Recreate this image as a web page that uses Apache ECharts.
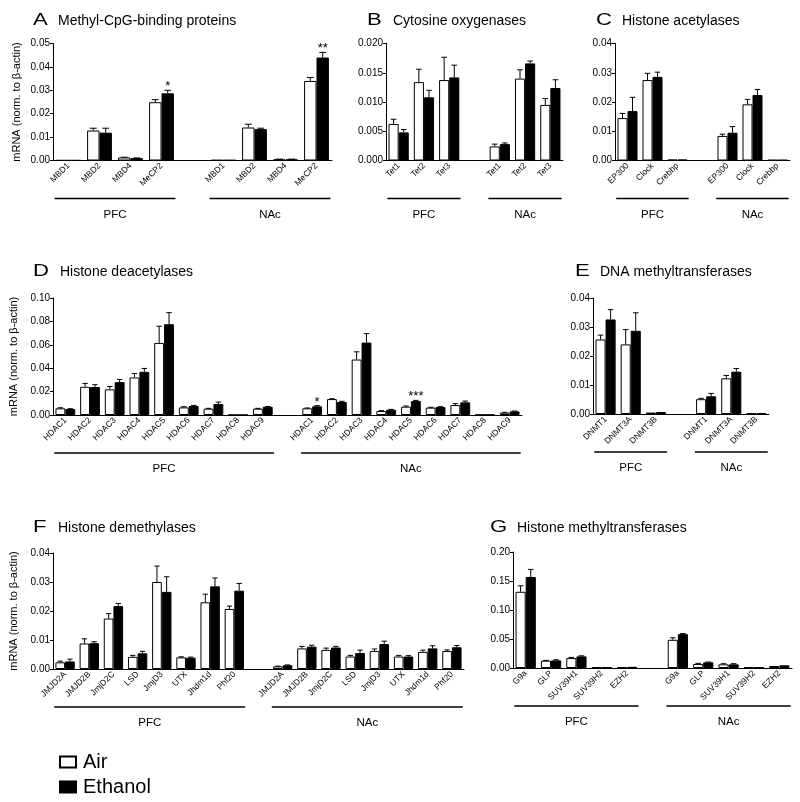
<!DOCTYPE html>
<html><head><meta charset="utf-8">
<script src="https://cdn.jsdelivr.net/npm/echarts@6/dist/echarts.min.js"></script>
<style>html,body{margin:0;padding:0;background:#fff}#c{width:800px;height:802px}</style>
</head><body><div id="c"></div>
<script>
// ---------- DATA ----------
// A: Methyl-CpG-binding proteins
const A_genes = ['MBD1','MBD2','MBD4','MeCP2'];
const A_pfcAir = [0.0001, 0.0128, 0.0013, 0.0249];
const A_pfcAirErr = [0, 0.0010, 0.0001, 0.0011];
const A_pfcEth = [0.0001, 0.0119, 0.0010, 0.0287];
const A_pfcEthErr = [0, 0.0019, 0.0001, 0.0013];
const A_nacAir = [0.0002, 0.0141, 0.0005, 0.0340];
const A_nacAirErr = [0, 0.0014, 0.0001, 0.0015];
const A_nacEth = [0.0002, 0.0134, 0.0005, 0.0440];
const A_nacEthErr = [0, 0.0004, 0.0001, 0.0022];
const A_pfcEthSig = ['', '', '', '*'];
const A_nacEthSig = ['', '', '', '**'];

// B: Cytosine oxygenases
const B_genes = ['Tet1','Tet2','Tet3'];
const B_pfcAir = [0.00625, 0.0134, 0.01375];
const B_pfcAirErr = [0.0008, 0.0022, 0.0039];
const B_pfcEth = [0.0048, 0.0108, 0.0142];
const B_pfcEthErr = [0.0005, 0.0012, 0.0021];
const B_nacAir = [0.0024, 0.0140, 0.0095];
const B_nacAirErr = [0.0004, 0.0015, 0.0011];
const B_nacEth = [0.0028, 0.0166, 0.0124];
const B_nacEthErr = [0.0002, 0.0004, 0.0014];

// C: Histone acetylases
const C_genes = ['EP300','Clock','Crebbp'];
const C_pfcAir = [0.0145, 0.0275, 0.0003];
const C_pfcAirErr = [0.0016, 0.0023, 0];
const C_pfcEth = [0.0169, 0.0286, 0.0003];
const C_pfcEthErr = [0.0047, 0.0016, 0];
const C_nacAir = [0.0084, 0.0192, 0.0002];
const C_nacAirErr = [0.0006, 0.0017, 0];
const C_nacEth = [0.0095, 0.0224, 0.0002];
const C_nacEthErr = [0.0021, 0.0019, 0];

// D: Histone deacetylases
const D_genes = ['HDAC1','HDAC2','HDAC3','HDAC4','HDAC5','HDAC6','HDAC7','HDAC8','HDAC9'];
const D_pfcAir = [0.0057, 0.0241, 0.0219, 0.0321, 0.0616, 0.0065, 0.0054, 0.0001, 0.0054];
const D_pfcAirErr = [0.0005, 0.0029, 0.0025, 0.0034, 0.0143, 0.0006, 0.0003, 0, 0.0003];
const D_pfcEth = [0.0051, 0.0239, 0.0281, 0.0369, 0.0776, 0.0077, 0.0094, 0.0001, 0.0070];
const D_pfcEthErr = [0.0003, 0.0020, 0.0023, 0.0029, 0.0099, 0.0005, 0.0016, 0, 0.0003];
const D_nacAir = [0.0057, 0.0136, 0.0474, 0.0034, 0.0071, 0.0063, 0.0085, 0.0002, 0.0020];
const D_nacAirErr = [0.0003, 0.0003, 0.0066, 0.0003, 0.0006, 0.0003, 0.0012, 0, 0.0003];
const D_nacEth = [0.0074, 0.0111, 0.0619, 0.0045, 0.0119, 0.0068, 0.0108, 0.0002, 0.0031];
const D_nacEthErr = [0.0006, 0.0006, 0.0077, 0.0003, 0.0006, 0.0003, 0.0011, 0, 0.0003];
const D_nacEthSig = ['*', '', '', '', '***', '', '', '', ''];

// E: DNA methyltransferases
const E_genes = ['DNMT1','DNMT3A','DNMT3B'];
const E_pfcAir = [0.0257, 0.0240, 0.0005];
const E_pfcAirErr = [0.0015, 0.0051, 0];
const E_pfcEth = [0.0326, 0.0287, 0.0007];
const E_pfcEthErr = [0.0034, 0.0062, 0];
const E_nacAir = [0.0051, 0.0123, 0.0002];
const E_nacAirErr = [0.0003, 0.0010, 0];
const E_nacEth = [0.0061, 0.0146, 0.0003];
const E_nacEthErr = [0.0010, 0.0011, 0];

// F: Histone demethylases
const F_genes = ['JMJD2A','JMJD2B','JmjD2C','LSD','JmjD3','UTX','Jhdm1d','Phf20'];
const F_pfcAir = [0.0023, 0.0088, 0.0174, 0.0042, 0.0300, 0.0040, 0.0230, 0.0207];
const F_pfcAirErr = [0.0004, 0.0016, 0.0017, 0.0005, 0.0055, 0.0002, 0.0028, 0.0010];
const F_pfcEth = [0.0026, 0.0089, 0.0217, 0.0054, 0.0266, 0.0039, 0.0285, 0.0270];
const F_pfcEthErr = [0.0008, 0.0005, 0.0009, 0.0007, 0.0052, 0.0002, 0.0029, 0.0025];
const F_nacAir = [0.0009, 0.0071, 0.0066, 0.0043, 0.0062, 0.0043, 0.0059, 0.0062];
const F_nacAirErr = [0.0001, 0.0007, 0.0006, 0.0004, 0.0007, 0.0004, 0.0006, 0.0004];
const F_nacEth = [0.0013, 0.0077, 0.0074, 0.0055, 0.0086, 0.0043, 0.0071, 0.0075];
const F_nacEthErr = [0.0001, 0.0005, 0.0004, 0.0010, 0.0010, 0.0003, 0.0009, 0.0006];

// G: Histone methyltransferases
const G_genes = ['G9a','GLP','SUV39H1','SUV39H2','EZH2'];
const G_pfcAir = [0.1314, 0.0126, 0.0171, 0.0010, 0.0015];
const G_pfcAirErr = [0.0103, 0.0006, 0.0012, 0, 0];
const G_pfcEth = [0.1570, 0.0131, 0.0200, 0.0010, 0.0020];
const G_pfcEthErr = [0.0130, 0.0011, 0.0010, 0, 0];
const G_nacAir = [0.0486, 0.0069, 0.0063, 0.0010, 0.0034];
const G_nacAirErr = [0.0034, 0.0011, 0.0011, 0, 0];
const G_nacEth = [0.0583, 0.0097, 0.0063, 0.0010, 0.0046];
const G_nacEthErr = [0.0011, 0.0006, 0.0011, 0, 0];

const regions = ['PFC', 'NAc'];
const yTitle = 'mRNA (norm. to \u03B2-actin)';

// ---------- PANELS ----------
const none = g => g.map(() => '');
const panels = [
  {id:'A', title:'Methyl-CpG-binding proteins', genes:A_genes,
   pa:A_pfcAir, pae:A_pfcAirErr, pe:A_pfcEth, pee:A_pfcEthErr, na:A_nacAir, nae:A_nacAirErr, ne:A_nacEth, nee:A_nacEthErr,
   ps:A_pfcEthSig, ns:A_nacEthSig, max:0.05, interval:0.01, dec:2, yname:true,
   grid:{left:53, top:43.5, width:279, height:117}, tl:[33,22], tt:58},
  {id:'B', title:'Cytosine oxygenases', genes:B_genes,
   pa:B_pfcAir, pae:B_pfcAirErr, pe:B_pfcEth, pee:B_pfcEthErr, na:B_nacAir, nae:B_nacAirErr, ne:B_nacEth, nee:B_nacEthErr,
   ps:none(B_genes), ns:none(B_genes), max:0.02, interval:0.005, dec:3, yname:false,
   grid:{left:386, top:43.5, width:177, height:117}, tl:[367,22], tt:393},
  {id:'C', title:'Histone acetylases', genes:C_genes,
   pa:C_pfcAir, pae:C_pfcAirErr, pe:C_pfcEth, pee:C_pfcEthErr, na:C_nacAir, nae:C_nacAirErr, ne:C_nacEth, nee:C_nacEthErr,
   ps:none(C_genes), ns:none(C_genes), max:0.04, interval:0.01, dec:2, yname:false,
   grid:{left:615, top:43.5, width:175, height:117}, tl:[596,22], tt:622},
  {id:'D', title:'Histone deacetylases', genes:D_genes,
   pa:D_pfcAir, pae:D_pfcAirErr, pe:D_pfcEth, pee:D_pfcEthErr, na:D_nacAir, nae:D_nacAirErr, ne:D_nacEth, nee:D_nacEthErr,
   ps:none(D_genes), ns:D_nacEthSig, max:0.10, interval:0.02, dec:2, yname:true,
   grid:{left:53, top:298, width:469, height:117}, tl:[33,273], tt:60},
  {id:'E', title:'DNA methyltransferases', genes:E_genes,
   pa:E_pfcAir, pae:E_pfcAirErr, pe:E_pfcEth, pee:E_pfcEthErr, na:E_nacAir, nae:E_nacAirErr, ne:E_nacEth, nee:E_nacEthErr,
   ps:none(E_genes), ns:none(E_genes), max:0.04, interval:0.01, dec:2, yname:false,
   grid:{left:593, top:298, width:176, height:116}, tl:[575,273], tt:600},
  {id:'F', title:'Histone demethylases', genes:F_genes,
   pa:F_pfcAir, pae:F_pfcAirErr, pe:F_pfcEth, pee:F_pfcEthErr, na:F_nacAir, nae:F_nacAirErr, ne:F_nacEth, nee:F_nacEthErr,
   ps:none(F_genes), ns:none(F_genes), max:0.04, interval:0.01, dec:2, yname:true,
   grid:{left:53, top:553, width:411, height:116}, tl:[33,529], tt:58},
  {id:'G', title:'Histone methyltransferases', genes:G_genes,
   pa:G_pfcAir, pae:G_pfcAirErr, pe:G_pfcEth, pee:G_pfcEthErr, na:G_nacAir, nae:G_nacAirErr, ne:G_nacEth, nee:G_nacEthErr,
   ps:none(G_genes), ns:none(G_genes), max:0.20, interval:0.05, dec:2, yname:false,
   grid:{left:513, top:552, width:279, height:116}, tl:[490,529], tt:517}
];

const FONT = 'Liberation Sans, Arial, Helvetica, sans-serif';

function errSeries(name, i, values, errs, sigs, sign) {
  const data = values.map((v, k) => [k, v, errs[k]]);
  return {
    type: 'custom', name: name + '_err', xAxisIndex: i, yAxisIndex: i, z: 5, clip: false,
    encode: {x: 0, y: 1}, silent: true,
    data: data.filter(d => d[1] != null),
    renderItem: function (params, api) {
      const idx = api.value(0), v = api.value(1), e = api.value(2);
      const slot = api.size([1, 0])[0];
      const base = api.coord([idx, v]);
      const top = api.coord([idx, v + e]);
      const x = base[0] + sign * 0.2 * slot;
      const half = 0.11 * slot;
      const ch = [];
      if (e > 0) {
        ch.push({type:'line', shape:{x1:x, y1:base[1], x2:x, y2:top[1]}, style:{stroke:'#000', lineWidth:1}});
        ch.push({type:'line', shape:{x1:x - half, y1:top[1], x2:x + half, y2:top[1]}, style:{stroke:'#000', lineWidth:1}});
      }
      const s = sigs[idx];
      if (s) {
        ch.push({type:'text', style:{text:s, x:x, y:top[1] + 3, textAlign:'center', textVerticalAlign:'bottom',
          fontSize:13, fontFamily:FONT, fill:'#000'}});
      }
      return {type:'group', children:ch};
    }
  };
}

const option = {
  animation: false, backgroundColor: '#fff',
  textStyle: {fontFamily: FONT},
  legend: {
    orient: 'vertical', left: 59, top: 751, padding: 0, itemWidth: 16, itemHeight: 11, itemGap: 3,
    height: 52, icon: 'rect', data: ['Air', 'Ethanol'],
    textStyle: {fontSize: 20, lineHeight: 22, color: '#000', fontFamily: FONT, padding: [0, 0, 0, 2]}
  },
  grid: [], xAxis: [], yAxis: [], series: []
};

panels.forEach((p, i) => {
  const cats = p.genes.concat([''], p.genes);
  const air = p.pa.concat([null], p.na);
  const eth = p.pe.concat([null], p.ne);
  const airE = p.pae.concat([0], p.nae);
  const ethE = p.pee.concat([0], p.nee);
  const ethS = p.ps.concat([''], p.ns);
  const airS = cats.map(() => '');
  option.grid.push(Object.assign({containLabel: false}, p.grid));
  option.xAxis.push({
    type: 'category', gridIndex: i, data: cats,
    axisLine: {lineStyle: {color: '#000', width: 1}},
    axisTick: {show: false},
    axisLabel: {interval: 0, rotate: 45, fontSize: 8.5, color: '#000', margin: 4, fontFamily: FONT}
  });
  option.yAxis.push({
    type: 'value', gridIndex: i, min: 0, max: p.max, interval: p.interval,
    name: p.yname ? yTitle : '', nameLocation: 'middle', nameGap: 31,
    nameTextStyle: {fontSize: 11, color: '#000', fontFamily: FONT},
    axisLine: {show: true, lineStyle: {color: '#000', width: 1}},
    axisTick: {show: true, length: 3, lineStyle: {color: '#000'}},
    splitLine: {show: false},
    axisLabel: {fontSize: 10, color: '#000', margin: 3, fontFamily: FONT,
      formatter: v => v.toFixed(p.dec)}
  });
  option.series.push({
    type: 'bar', name: 'Air', xAxisIndex: i, yAxisIndex: i, data: air,
    barGap: '0%', barCategoryGap: '20%',
    itemStyle: {color: '#fff', borderColor: '#000', borderWidth: 1}
  });
  option.series.push({
    type: 'bar', name: 'Ethanol', xAxisIndex: i, yAxisIndex: i, data: eth,
    barGap: '0%', barCategoryGap: '20%',
    itemStyle: {color: '#000', borderColor: '#000', borderWidth: 1}
  });
  option.series.push(errSeries('Air', i, air, airE, airS, -1));
  option.series.push(errSeries('Ethanol', i, eth, ethE, ethS, 1));
});

const chart = echarts.init(document.getElementById('c'), null, {renderer: 'canvas'});
chart.setOption(option);

// titles and group brackets
const graphics = [];
panels.forEach((p, i) => {
  graphics.push({type: 'text', left: p.tl[0], top: p.tl[1] - 10, scaleX: 1.3,
    style: {text: p.id, fontSize: 17, fontFamily: FONT, fill: '#000'}});
  graphics.push({type: 'text', left: p.tt, top: p.tl[1] - 8,
    style: {text: p.title, fontSize: 14, fontFamily: FONT, fill: '#000'}});
  const n = p.genes.length;
  const c0 = chart.convertToPixel({xAxisIndex: i}, 0);
  const c1 = chart.convertToPixel({xAxisIndex: i}, 1);
  const slot = c1 - c0;
  const bottom = p.grid.top + p.grid.height;
  const ly = bottom + 38;
  [[0, n - 1], [n + 1, 2 * n]].forEach((g, r) => {
    const xs = chart.convertToPixel({xAxisIndex: i}, g[0]) - 0.45 * slot;
    const xe = chart.convertToPixel({xAxisIndex: i}, g[1]) + 0.45 * slot;
    graphics.push({type: 'line', shape: {x1: xs, y1: ly, x2: xe, y2: ly},
      style: {stroke: '#000', lineWidth: 1.5}});
    graphics.push({type: 'text', x: (xs + xe) / 2, y: ly + 16,
      style: {text: regions[r], fontSize: 11.5, fontFamily: FONT, fill: '#000',
        textAlign: 'center', textVerticalAlign: 'middle'}});
  });
});
chart.setOption({graphic: graphics});
</script>
</body></html>
